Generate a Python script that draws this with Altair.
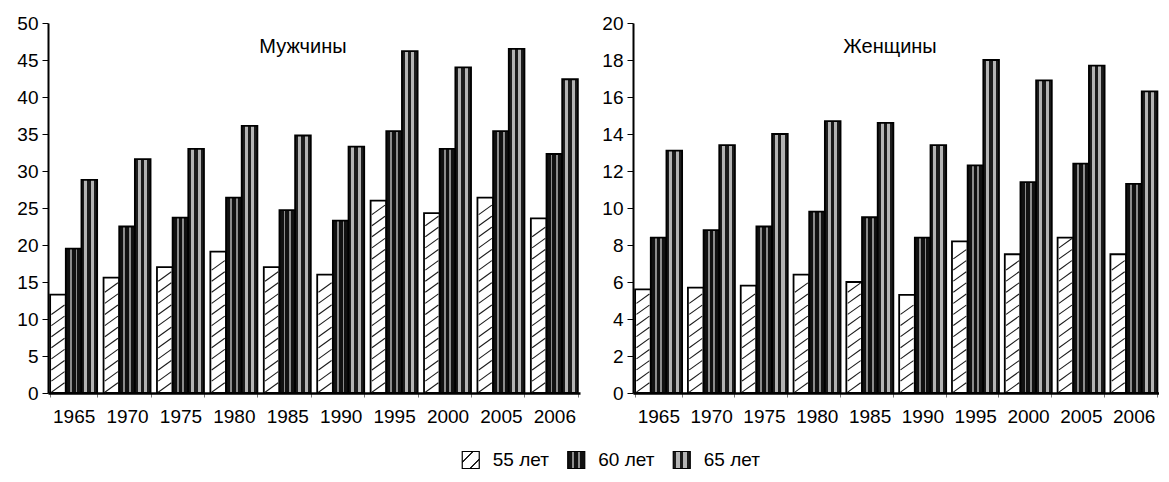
import altair as alt
import pandas as pd

FONT = "Liberation Sans, Arial, sans-serif"

years = ["1965", "1970", "1975", "1980", "1985", "1990", "1995", "2000", "2005", "2006"]
ages = ["55 лет", "60 лет", "65 лет"]

men_55 = [13.3, 15.6, 17.0, 19.1, 17.0, 16.0, 26.0, 24.3, 26.4, 23.6]
men_60 = [19.5, 22.5, 23.7, 26.4, 24.7, 23.3, 35.4, 33.0, 35.4, 32.3]
men_65 = [28.8, 31.6, 33.0, 36.1, 34.8, 33.3, 46.2, 44.0, 46.5, 42.4]

women_55 = [5.6, 5.7, 5.8, 6.4, 6.0, 5.3, 8.2, 7.5, 8.4, 7.5]
women_60 = [8.4, 8.8, 9.0, 9.8, 9.5, 8.4, 12.3, 11.4, 12.4, 11.3]
women_65 = [13.1, 13.4, 14.0, 14.7, 14.6, 13.4, 18.0, 16.9, 17.7, 16.3]

men_title = "Мужчины"
women_title = "Женщины"

PLOT_H = 370


def stripes(base, light, bands, x1=0, y1=0, x2=1, y2=0):
    stops = [{"offset": 0, "color": base}]
    for a, b in bands:
        stops += [{"offset": a, "color": base}, {"offset": a, "color": light},
                  {"offset": b, "color": light}, {"offset": b, "color": base}]
    stops.append({"offset": 1, "color": base})
    return {"gradient": "linear", "x1": x1, "y1": y1, "x2": x2, "y2": y2, "stops": stops}


g60 = stripes("#111111", "#8c8c8c", [(0.26, 0.38), (0.62, 0.74)])
g65 = stripes("#1c1c1c", "#b4b4b4", [(0.18, 0.38), (0.6, 0.8)])
g55_leg = stripes("#ffffff", "#222222", [(0.3, 0.36), (0.7, 0.76)], x1=0, y1=0, x2=1, y2=1)


def fill_for(g55):
    return alt.value(g65, condition=[
        {"test": "datum.age === '55 лет'", "value": g55},
        {"test": "datum.age === '60 лет'", "value": g60},
    ])


def panel(series, title, ymax, tick_step, hatch_step, width, extent, title_dx):
    rows = []
    for age, vals in zip(ages, series):
        for yr, v in zip(years, vals):
            rows.append({"year": yr, "age": age, "value": v})
    df = pd.DataFrame(rows)
    xscale = alt.Scale(paddingInner=0.12, paddingOuter=0.04)
    xo_scale = alt.Scale(domain=ages, paddingInner=0, paddingOuter=0)
    xaxis = alt.Axis(labelAngle=0, tickBand="extent")
    yscale = alt.Scale(domain=[0, ymax], nice=False, zero=True)
    yaxis = alt.Axis(values=list(range(0, ymax + 1, tick_step)), grid=False,
                     labelOverlap=False, minExtent=extent, maxExtent=extent)
    bars = alt.Chart(df).mark_bar(stroke="black", strokeWidth=1.8).encode(
        x=alt.X("year:N", sort=years, title=None, scale=xscale, axis=xaxis),
        xOffset=alt.XOffset("age:N", sort=ages, scale=xo_scale),
        y=alt.Y("value:Q", title=None, scale=yscale, axis=yaxis),
        fill=fill_for("white"),
    )
    bw = width / (10 - 0.12 + 0.08) * 0.88 / 3
    hatch = (
        alt.Chart(df)
        .transform_filter("datum.age === '55 лет'")
        .transform_calculate(hy=f"sequence({hatch_step * 0.5}, datum.value - {hatch_step * 0.4}, {hatch_step})")
        .transform_flatten(["hy"])
        .mark_point(shape="M-1,0.72L1,-0.72", filled=False, stroke="#1a1a1a",
                    strokeWidth=1.1, size=(bw - 2.5) ** 2, opacity=1)
        .encode(x=alt.X("year:N", sort=years, title=None, scale=xscale, axis=xaxis),
                xOffset=alt.XOffset("age:N", sort=ages, scale=xo_scale),
                y=alt.Y("hy:Q", title=None, scale=yscale, axis=yaxis))
    )
    label = alt.Chart(pd.DataFrame({"t": [title]})).mark_text(
        font=FONT, fontSize=20, color="black", align="center", baseline="middle"
    ).encode(text="t:N", x=alt.value(width / 2 + title_dx), y=alt.value(24))
    return alt.layer(bars, hatch, label).properties(width=width, height=PLOT_H)


left = panel([men_55, men_60, men_65], men_title, 50, 5, 1.5, 532, 40, -11)
right = panel([women_55, women_60, women_65], women_title, 20, 2, 0.6, 526, 36, -6)

LEG_W = 1111
leg_df = pd.DataFrame({"age": ages})
lx = alt.X("age:N", sort=ages, axis=None,
           scale=alt.Scale(domain=ages, range=[370, 686.5], paddingInner=0, paddingOuter=0))
sw = alt.Chart(leg_df).mark_point(shape="square", size=17 * 17, filled=True, stroke="black",
                                  strokeWidth=1.2, opacity=1).encode(
    x=lx, y=alt.value(9), fill=fill_for(g55_leg))
txt = alt.Chart(leg_df).mark_text(align="left", baseline="middle", dx=22, font=FONT,
                                  fontSize=19, color="black").encode(
    x=lx, y=alt.value(9), text="age:N")
legend = alt.layer(sw, txt).properties(width=LEG_W, height=18)

chart = alt.vconcat(
    alt.hconcat(left, right, spacing=17),
    legend,
    spacing=23,
).properties(
    padding={"top": 6, "left": 0, "right": 0, "bottom": 0},
).configure_axis(
    labelFont=FONT, labelFontSize=19, labelColor="black", domainColor="black",
    tickColor="black",
).configure_axisX(
    domainWidth=2.5, tickSize=4, tickColor="#777777", labelPadding=10,
).configure_axisY(
    domainWidth=2, tickSize=6, labelPadding=4,
).configure_view(stroke=None)

chart.save("out.html", embed_options={"renderer": "svg", "actions": False})
